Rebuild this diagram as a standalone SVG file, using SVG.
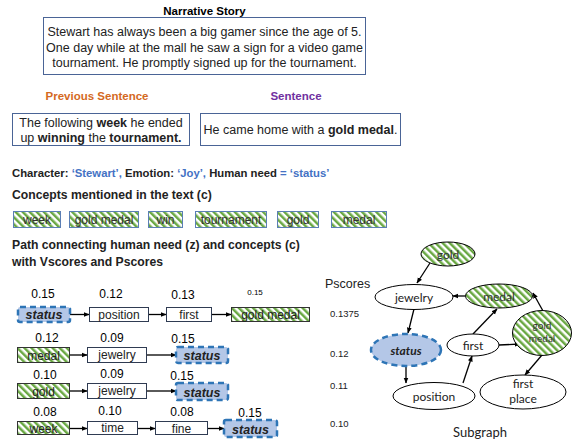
<svg xmlns="http://www.w3.org/2000/svg" width="578" height="444" viewBox="0 0 578 444">
<style>
text{font-family:"Liberation Sans",Arial,sans-serif;}
.c{font-family:Lato,"Liberation Sans",sans-serif;}
.box{fill:#fff;stroke:#2f3b52;stroke-width:1;}
.hbox{fill:url(#hatch);stroke:#333;stroke-width:1;}
.cbox{fill:url(#hatch);stroke:#5b7fb5;stroke-width:1;}
.st{fill:#b4c7e7;stroke:#2e75b6;stroke-width:2.5;stroke-dasharray:6 4;}
.nd{fill:#fff;stroke:#000;stroke-width:1;}
.edge{stroke:#000;stroke-width:1.3;fill:none;marker-end:url(#ah);}
.blue{fill:#4472c4;}
.b{font-weight:bold;}
</style>
<defs>
<pattern id="hatch" patternUnits="userSpaceOnUse" width="5" height="5" patternTransform="rotate(-45)">
<rect width="5" height="5" fill="#fff"/>
<rect width="2.5" height="5" fill="#6aa843"/>
</pattern>
<marker id="ah" viewBox="0 0 10 10" refX="9" refY="5" markerWidth="6" markerHeight="6" orient="auto" markerUnits="userSpaceOnUse">
<path d="M0,1 L10,5 L0,9 z" fill="#000"/>
</marker>
</defs>

<g id="story">
<text x="204.5" y="15" font-size="11.5" font-weight="bold" text-anchor="middle">Narrative Story</text>
<rect x="43.5" y="17.5" width="322" height="57" fill="#fff" stroke="#4a6496" stroke-width="1"/>
<text x="204.5" y="36" font-size="12.5" text-anchor="middle" fill="#222">Stewart has always been a big gamer since the age of 5.</text>
<text x="204.5" y="51.5" font-size="12.5" text-anchor="middle" fill="#222">One day while at the mall he saw a sign for a video game</text>
<text x="204.5" y="67" font-size="12.5" text-anchor="middle" fill="#222">tournament. He promptly signed up for the tournament.</text>
</g>

<g id="prev-sentence">
<text x="97" y="100" font-size="11.5" font-weight="bold" fill="#d4691e" text-anchor="middle">Previous Sentence</text>
<rect x="12.5" y="113.5" width="177" height="32" fill="#fff" stroke="#4a6496"/>
<text x="101" y="126.5" font-size="12.5" text-anchor="middle" fill="#222">The following <tspan class="b">week</tspan> he ended</text>
<text x="101" y="141.5" font-size="12.5" text-anchor="middle" fill="#222">up <tspan class="b">winning</tspan> the <tspan class="b">tournament.</tspan></text>
</g>

<g id="sentence">
<text x="296" y="100" font-size="11.5" font-weight="bold" fill="#7030a0" text-anchor="middle">Sentence</text>
<rect x="200.5" y="113.5" width="200" height="32" fill="#fff" stroke="#4a6496"/>
<text x="300.5" y="134" font-size="12.5" text-anchor="middle" fill="#222">He came home with a <tspan class="b">gold medal</tspan>.</text>
</g>

<g id="character-line">
<text x="12" y="177" font-size="11.3" font-weight="bold" fill="#222">Character: <tspan class="blue">‘Stewart’,</tspan> Emotion: <tspan class="blue">‘Joy’,</tspan> Human need <tspan class="blue">= ‘status’</tspan></text>
</g>

<g id="concepts">
<text x="12" y="198.5" font-size="12.2" font-weight="bold" fill="#222">Concepts mentioned in the text (c)</text>
<g id="c-week"><rect class="cbox" x="13.5" y="211.5" width="47" height="16"/><text x="37" y="224" font-size="12" text-anchor="middle" fill="#333">week</text></g>
<g id="c-goldmedal"><rect class="cbox" x="69.5" y="211.5" width="69" height="16"/><text x="104" y="224" font-size="12" text-anchor="middle" fill="#333">gold medal</text></g>
<g id="c-win"><rect class="cbox" x="148.5" y="211.5" width="34" height="16"/><text x="165.5" y="224" font-size="12" text-anchor="middle" fill="#333">win</text></g>
<g id="c-tournament"><rect class="cbox" x="195.5" y="211.5" width="71" height="16"/><text x="231" y="224" font-size="12" text-anchor="middle" fill="#333">tournament</text></g>
<g id="c-gold"><rect class="cbox" x="277.5" y="211.5" width="41" height="16"/><text x="298" y="224" font-size="12" text-anchor="middle" fill="#333">gold</text></g>
<g id="c-medal"><rect class="cbox" x="331.5" y="211.5" width="55" height="16"/><text x="359" y="224" font-size="12" text-anchor="middle" fill="#333">medal</text></g>
</g>

<g id="path-title">
<text x="12" y="248.5" font-size="12.2" font-weight="bold" fill="#222">Path connecting human need (z) and concepts (c)</text>
<text x="12" y="265.5" font-size="12.2" font-weight="bold" fill="#222">with Vscores and Pscores</text>
</g>

<g id="path-connectors">
<line class="edge" x1="70" y1="314.5" x2="89" y2="314.5"/>
<line class="edge" x1="149" y1="314.5" x2="166" y2="314.5"/>
<line class="edge" x1="212" y1="314.5" x2="231" y2="314.5"/>
<line class="edge" x1="70" y1="355" x2="87" y2="355"/>
<line class="edge" x1="147" y1="355" x2="176" y2="355"/>
<line class="edge" x1="70" y1="391" x2="87" y2="391"/>
<line class="edge" x1="147" y1="391" x2="176" y2="391"/>
<line class="edge" x1="70" y1="428.5" x2="87" y2="428.5"/>
<line class="edge" x1="138" y1="428.5" x2="155" y2="428.5"/>
<line class="edge" x1="208" y1="428.5" x2="224" y2="428.5"/>
</g>

<g id="path-row1" class="c">
<text x="43" y="298" font-size="12" text-anchor="middle">0.15</text>
<text x="111" y="298" font-size="12" text-anchor="middle">0.12</text>
<text x="183" y="299" font-size="12" text-anchor="middle">0.13</text>
<text x="255" y="295" font-size="8" text-anchor="middle">0.15</text>
<g id="r1-status"><rect class="st" x="18" y="307" width="52" height="15" rx="2"/><text x="44" y="319" font-size="12.5" font-weight="bold" font-style="italic" text-anchor="middle" fill="#222">status</text></g>
<g id="r1-position"><rect class="box" x="89.5" y="307.5" width="59" height="14"/><text x="119" y="319" font-size="12" text-anchor="middle" fill="#222">position</text></g>
<g id="r1-first"><rect class="box" x="166.5" y="307.5" width="45" height="14"/><text x="189" y="318.5" font-size="12" text-anchor="middle" fill="#222">first</text></g>
<g id="r1-goldmedal"><rect class="hbox" x="231.5" y="307.5" width="78" height="14"/><text x="270.5" y="319" font-size="12" text-anchor="middle" fill="#222">gold medal</text></g>
</g>

<g id="path-row2" class="c">
<text x="47" y="342" font-size="12" text-anchor="middle">0.12</text>
<text x="112" y="342" font-size="12" text-anchor="middle">0.09</text>
<text x="183" y="343" font-size="12" text-anchor="middle">0.15</text>
<g id="r2-medal"><rect class="hbox" x="17.5" y="347.5" width="52" height="15"/><text x="43.5" y="360" font-size="12" text-anchor="middle" fill="#222">medal</text></g>
<g id="r2-jewelry"><rect class="box" x="87.5" y="347.5" width="59" height="15"/><text x="117" y="359" font-size="12" text-anchor="middle" fill="#222">jewelry</text></g>
<g id="r2-status"><rect class="st" x="176" y="347" width="52" height="16" rx="2"/><text x="202" y="360" font-size="12.5" font-weight="bold" font-style="italic" text-anchor="middle" fill="#222">status</text></g>
</g>

<g id="path-row3" class="c">
<text x="45" y="379" font-size="12" text-anchor="middle">0.10</text>
<text x="112" y="378" font-size="12" text-anchor="middle">0.09</text>
<text x="182" y="380" font-size="12" text-anchor="middle">0.15</text>
<g id="r3-gold"><rect class="hbox" x="17.5" y="383.5" width="52" height="15"/><text x="43.5" y="396" font-size="12" text-anchor="middle" fill="#222">gold</text></g>
<g id="r3-jewelry"><rect class="box" x="87.5" y="383.5" width="59" height="15"/><text x="117" y="395" font-size="12" text-anchor="middle" fill="#222">jewelry</text></g>
<g id="r3-status"><rect class="st" x="176" y="383" width="52" height="17" rx="2"/><text x="202" y="396.5" font-size="12.5" font-weight="bold" font-style="italic" text-anchor="middle" fill="#222">status</text></g>
</g>

<g id="path-row4" class="c">
<text x="45" y="416" font-size="12" text-anchor="middle">0.08</text>
<text x="110" y="415" font-size="12" text-anchor="middle">0.10</text>
<text x="182" y="416" font-size="12" text-anchor="middle">0.08</text>
<text x="250" y="417" font-size="12" text-anchor="middle">0.15</text>
<g id="r4-week"><rect class="hbox" x="17.5" y="421.5" width="52" height="13"/><text x="43.5" y="432.5" font-size="12" text-anchor="middle" fill="#222">week</text></g>
<g id="r4-time"><rect class="box" x="87.5" y="421.5" width="50" height="13"/><text x="112.5" y="432" font-size="12" text-anchor="middle" fill="#222">time</text></g>
<g id="r4-fine"><rect class="box" x="155.5" y="421.5" width="52" height="13"/><text x="181.5" y="432.5" font-size="12" text-anchor="middle" fill="#222">fine</text></g>
<g id="r4-status"><rect class="st" x="224" y="420" width="53" height="17" rx="2"/><text x="250.5" y="433.5" font-size="12.5" font-weight="bold" font-style="italic" text-anchor="middle" fill="#222">status</text></g>
</g>

<g id="pscores">
<text x="325" y="288" font-size="12.5" fill="#222">Pscores</text>
<text x="330" y="317" font-size="9.5" fill="#222">0.1375</text>
<text x="330" y="357" font-size="9.5" fill="#222">0.12</text>
<text x="330" y="389" font-size="9.5" fill="#222">0.11</text>
<text x="330" y="427" font-size="9.5" fill="#222">0.10</text>
</g>

<g id="graph-connectors">
<line class="edge" x1="430" y1="263" x2="417" y2="283"/>
<line class="edge" x1="465" y1="296" x2="453" y2="296"/>
<line class="edge" x1="414" y1="309" x2="408" y2="333"/>
<line class="edge" x1="406" y1="367" x2="406" y2="383"/>
<line class="edge" x1="463" y1="383" x2="472" y2="356"/>
<line class="edge" x1="473" y1="334" x2="497" y2="309"/>
<line class="edge" x1="499" y1="345" x2="520" y2="344"/>
<line class="edge" x1="543" y1="311" x2="533" y2="293"/>
<line class="edge" x1="542" y1="355" x2="525" y2="375"/>
</g>

<g id="n-gold"><ellipse cx="448" cy="254" rx="27" ry="12" fill="url(#hatch)" stroke="#000"/><text class="c" x="448" y="258.5" font-size="12" text-anchor="middle" fill="#333">gold</text></g>
<g id="n-jewelry"><ellipse class="nd" cx="414" cy="297" rx="39" ry="12.5"/><text class="c" x="414" y="301.5" font-size="12" text-anchor="middle" fill="#222">jewelry</text></g>
<g id="n-medal"><ellipse cx="499" cy="296" rx="33.5" ry="12" fill="url(#hatch)" stroke="#000"/><text class="c" x="499" y="300.5" font-size="12" text-anchor="middle" fill="#333">medal</text></g>
<g id="n-status"><ellipse class="st" cx="406" cy="350" rx="35" ry="16"/><text class="c" x="406" y="354.5" font-size="12" font-weight="bold" font-style="italic" text-anchor="middle" fill="#222">status</text></g>
<g id="n-first"><ellipse class="nd" cx="473" cy="345" rx="26" ry="11"/><text class="c" x="473" y="349.5" font-size="12" text-anchor="middle" fill="#222">first</text></g>
<g id="n-goldmedal"><ellipse cx="542" cy="333" rx="29.5" ry="22.5" fill="url(#hatch)" stroke="#000"/><text class="c" x="542" y="329" font-size="10" text-anchor="middle" fill="#333">gold</text><text class="c" x="542" y="342" font-size="10" text-anchor="middle" fill="#333">medal</text></g>
<g id="n-position"><ellipse class="nd" cx="434" cy="396" rx="41" ry="13.5"/><text class="c" x="434" y="400.5" font-size="12" text-anchor="middle" fill="#222">position</text></g>
<g id="n-firstplace"><ellipse class="nd" cx="523" cy="392" rx="43" ry="17"/><text class="c" x="523" y="388" font-size="12" text-anchor="middle" fill="#222">first</text><text class="c" x="523" y="403" font-size="12" text-anchor="middle" fill="#222">place</text></g>

<text class="c" x="480" y="437" font-size="13" text-anchor="middle" fill="#222">Subgraph</text>
</svg>
